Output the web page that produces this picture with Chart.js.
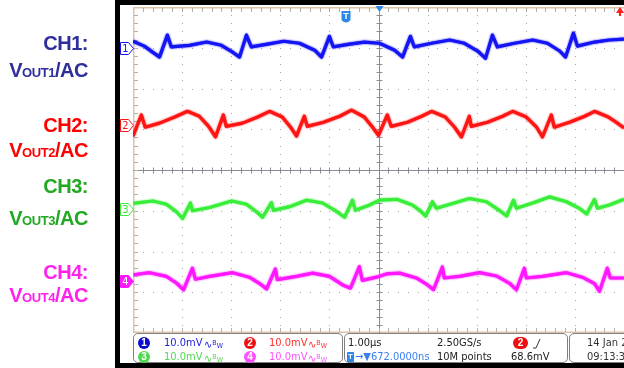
<!DOCTYPE html>
<html>
<head>
<meta charset="utf-8">
<script src="https://cdn.jsdelivr.net/npm/chart.js@4.4.1/dist/chart.umd.min.js"></script>
<style>
html, body { margin: 0; padding: 0; background: #fff; }
#wrap { position: relative; width: 624px; height: 368px; overflow: hidden; font-family: "Liberation Sans", Arial, sans-serif; }
#frame { position: absolute; left: 115px; top: 0; width: 520px; height: 368px; background: #000; }
#screen { position: absolute; left: 120px; top: 5px; width: 520px; height: 358px; background: #fff; }
#scope { position: absolute; left: 0; top: 0; }
.lbl { position: absolute; right: 536px; height: 24px; line-height: 24px; font-weight: bold; font-size: 20px; letter-spacing: -0.5px; white-space: nowrap; }
.lbl .s { font-size: 13px; letter-spacing: -0.4px; }
.pan { position: absolute; top: 333px; height: 28px; border: 1px solid #808080; border-radius: 5px; background: #fff; }
.t { position: absolute; font-family: "Liberation Sans Narrow", "DejaVu Sans Condensed", sans-serif; font-size: 11px; line-height: 12px; white-space: nowrap; }
.c { position: absolute; width: 12px; height: 12px; border-radius: 6px; color: #fff; font-family: "Liberation Sans", sans-serif; font-size: 10px; line-height: 12px; text-align: center; font-weight: bold; }
.bw { font-size: 7px; }
</style>
</head>
<body>
<div id="wrap">
  <div id="frame"></div>
  <div id="screen"></div>

  <div class="pan" style="left:133px;width:208px"></div>
  <div class="pan" style="left:344px;width:222px"></div>
  <div class="pan" style="left:569px;width:80px"></div>

  <canvas id="scope" width="624" height="368"></canvas>

  <div class="lbl" style="top:31px;color:#2e2e9c">CH1:</div>
  <div class="lbl" style="top:58px;color:#2e2e9c">V<span class="s">OUT1</span>/AC</div>
  <div class="lbl" style="top:113px;color:#ff0000">CH2:</div>
  <div class="lbl" style="top:138px;color:#ff0000">V<span class="s">OUT2</span>/AC</div>
  <div class="lbl" style="top:174px;color:#22a822">CH3:</div>
  <div class="lbl" style="top:206px;color:#22a822">V<span class="s">OUT3</span>/AC</div>
  <div class="lbl" style="top:260px;color:#ff22ee">CH4:</div>
  <div class="lbl" style="top:283px;color:#ff22ee">V<span class="s">OUT4</span>/AC</div>

  <div class="c" style="left:138px;top:337px;background:#0a0ad0">1</div>
  <div class="t" style="left:164px;top:337px;color:#2020e0">10.0mV</div>
  <div class="t" style="left:204px;top:337px;color:#2020e0">∿<span class="bw" style="vertical-align:3px">B</span><span class="bw">W</span></div>
  <div class="c" style="left:244px;top:337px;background:#ee1010">2</div>
  <div class="t" style="left:269px;top:337px;color:#ff3030">10.0mV</div>
  <div class="t" style="left:308px;top:337px;color:#ff3030">∿<span class="bw" style="vertical-align:3px">B</span><span class="bw">W</span></div>
  <div class="c" style="left:138px;top:351px;background:#50d850">3</div>
  <div class="t" style="left:164px;top:351px;color:#50d850">10.0mV</div>
  <div class="t" style="left:204px;top:351px;color:#50d850">∿<span class="bw" style="vertical-align:3px">B</span><span class="bw">W</span></div>
  <div class="c" style="left:244px;top:351px;background:#ff50ff">4</div>
  <div class="t" style="left:269px;top:351px;color:#ff50ff">10.0mV</div>
  <div class="t" style="left:308px;top:351px;color:#ff50ff">∿<span class="bw" style="vertical-align:3px">B</span><span class="bw">W</span></div>

  <div class="t" style="left:348px;top:337px;color:#222">1.00µs</div>
  <div class="t" style="left:437px;top:337px;color:#222">2.50GS/s</div>
  <div class="c" style="left:513px;top:337px;width:15px;background:#ee1010">2</div>
  <svg style="position:absolute;left:532px;top:338px" width="10" height="11"><polyline points="1,10 4,10 8,1" fill="none" stroke="#333" stroke-width="1"/></svg>
  <div class="c" style="left:347px;top:352px;width:7px;height:10px;border-radius:1px;background:#2a86e8;font-size:8px;line-height:10px">T</div>
  <div class="t" style="left:355px;top:351px;color:#3a7ff0">→▼672.0000ns</div>
  <div class="t" style="left:437px;top:351px;color:#222">10M points</div>
  <div class="t" style="left:511px;top:351px;color:#222">68.6mV</div>

  <div class="t" style="left:587px;top:337px;color:#333">14 Jan 2</div>
  <div class="t" style="left:587px;top:351px;color:#333">09:13:31</div>
</div>

<script>
// time in microseconds (1.00 us/div), amplitude in mV (10.0 mV/div, AC)
const ch1Time = [-5.00,-4.77,-4.46,-4.30,-4.22,-3.85,-3.50,-3.20,-2.97,-2.83,-2.69,-2.59,-2.26,-1.93,-1.61,-1.30,-1.16,-1.00,-0.92,-0.59,-0.29,0.02,0.33,0.49,0.65,0.73,1.08,1.45,1.75,2.02,2.18,2.32,2.42,2.77,3.14,3.44,3.69,3.81,3.97,4.05,4.40,4.70,5.00];
const ch1Mv   = [1.7,0.5,-2.2,3.2,0.3,0.7,1.5,0.7,-1.0,-2.2,3.2,0.3,1.0,1.7,1.2,-0.5,-2.2,2.9,0.3,1.0,1.5,1.2,-0.5,-2.2,2.9,0.3,1.2,2.0,1.2,-0.7,-2.5,3.2,0.3,1.2,2.0,1.2,-0.7,-2.2,3.7,0.5,1.5,2.0,2.2];

const ch2Time = [-5.00,-4.83,-4.75,-4.46,-4.15,-3.89,-3.65,-3.46,-3.32,-3.16,-3.10,-2.77,-2.46,-2.22,-1.96,-1.79,-1.67,-1.51,-1.45,-1.12,-0.79,-0.55,-0.29,-0.12,0.00,0.18,0.26,0.59,0.88,1.08,1.36,1.55,1.69,1.85,1.89,2.22,2.53,2.73,3.01,3.22,3.34,3.52,3.58,3.89,4.20,4.40,4.68,4.89,5.00];
const ch2Mv   = [-2.7,2.5,-0.5,0.5,2.0,3.4,2.2,-0.3,-2.9,2.5,-0.3,0.5,2.0,3.4,2.0,-0.5,-2.7,2.2,-0.3,0.7,2.2,3.7,2.0,-0.5,-2.5,2.5,-0.3,0.7,2.2,3.4,2.0,-0.5,-2.9,2.2,-0.3,0.7,2.2,3.4,2.0,-0.5,-2.9,2.5,-0.5,0.7,2.2,3.4,2.0,0.3,-0.7];

const ch3Time = [-4.99,-4.60,-4.32,-4.11,-3.99,-3.83,-3.79,-3.44,-2.99,-2.69,-2.46,-2.36,-2.18,-2.14,-1.81,-1.47,-1.14,-0.84,-0.69,-0.53,-0.47,-0.18,0.02,0.37,0.69,0.86,0.96,1.10,1.18,1.51,1.85,2.20,2.46,2.61,2.75,2.81,3.14,3.48,3.83,4.09,4.24,4.40,4.46,4.70,5.00];
const ch3Mv   = [1.4,2.0,1.2,-0.7,-2.3,1.5,-0.4,0.4,2.0,1.2,-0.9,-2.0,1.6,-0.3,0.6,2.2,1.5,-0.7,-2.0,2.2,-0.3,1.0,2.2,2.4,1.0,-0.5,-1.7,1.8,0.2,1.4,2.6,1.8,-0.3,-1.7,2.2,0.2,1.5,3.0,1.8,0.2,-1.2,2.4,0.2,1.0,2.4];

const ch4Time = [-4.99,-4.66,-4.32,-4.11,-3.97,-3.79,-3.73,-3.44,-2.97,-2.63,-2.38,-2.28,-2.10,-2.06,-1.67,-1.34,-1.00,-0.73,-0.57,-0.39,-0.33,-0.04,0.16,0.43,0.77,1.00,1.12,1.30,1.34,1.65,2.06,2.40,2.67,2.81,2.97,3.01,3.34,3.83,4.15,4.40,4.50,4.66,4.72,5.00];
const ch4Mv   = [1.5,2.0,1.1,-0.6,-2.2,3.1,0.4,1.1,2.0,0.9,-1.0,-2.0,2.9,0.3,1.1,1.9,1.1,-1.0,-1.8,3.5,0.1,0.9,1.7,1.9,0.7,-1.0,-2.2,3.4,0.7,1.1,2.0,1.2,-0.6,-2.2,3.1,0.7,1.1,2.0,0.9,-0.7,-2.6,3.1,0.7,0.7];

// channel ground positions on screen (divisions from centre)
const chOffsets = [2.99, 1.10, -0.96, -2.72];
const chNames = ['1', '2', '3', '4'];
const mvPerDiv = 10;
const triggerDelay = 0.672; // us

const traceColors = ['#1414f5', '#ff1414', '#38ee38', '#ff18ff'];

function toPoints(times, mv, off) {
  return times.map((t, i) => ({x: t, y: off + mv[i] / mvPerDiv}));
}

/* graticule */
const scopeGrid = {
  id: 'scopeGrid',
  beforeDatasetsDraw(chart) {
    const {ctx, chartArea: a, scales: {x, y}} = chart;
    ctx.save();

    ctx.strokeStyle = '#dcc4a8';
    ctx.lineWidth = 1.5;
    ctx.beginPath();
    ctx.moveTo(a.left + 0.75, a.top); ctx.lineTo(a.left + 0.75, a.bottom);
    ctx.moveTo(a.left, a.top + 0.75); ctx.lineTo(a.right, a.top + 0.75);
    ctx.moveTo(a.left, a.bottom - 0.75); ctx.lineTo(a.right, a.bottom - 0.75);
    ctx.stroke();

    // dotted division lines
    ctx.fillStyle = '#a4a4a4';
    for (let d = -4; d <= 4; d++) {
      if (d === 0) continue;
      const px = Math.round(x.getPixelForValue(d));
      for (let m = -19; m <= 19; m++) {
        ctx.fillRect(px, Math.round(y.getPixelForValue(m / 5)), 1, 1);
      }
    }
    for (let d = -3; d <= 3; d++) {
      if (d === 0) continue;
      const py = Math.round(y.getPixelForValue(d));
      for (let m = -24; m <= 24; m++) {
        ctx.fillRect(Math.round(x.getPixelForValue(m / 5)), py, 1, 1);
      }
    }

    // centre cross with minor ticks
    const cx = Math.round(x.getPixelForValue(0)) + 0.5;
    const cy = Math.round(y.getPixelForValue(0)) + 0.5;
    ctx.strokeStyle = '#8a8c98';
    ctx.lineWidth = 1;
    ctx.beginPath();
    ctx.moveTo(cx, a.top); ctx.lineTo(cx, a.bottom);
    ctx.moveTo(a.left, cy); ctx.lineTo(a.right, cy);
    for (let m = -19; m <= 19; m++) {
      const py = Math.round(y.getPixelForValue(m / 5)) + 0.5;
      ctx.moveTo(cx - 3, py); ctx.lineTo(cx + 3, py);
    }
    for (let m = -24; m <= 24; m++) {
      const px = Math.round(x.getPixelForValue(m / 5)) + 0.5;
      ctx.moveTo(px, cy - 3); ctx.lineTo(px, cy + 3);
    }
    ctx.stroke();

    // edge ticks
    ctx.strokeStyle = '#b0b0b0';
    ctx.beginPath();
    for (let m = -19; m <= 19; m++) {
      const py = Math.round(y.getPixelForValue(m / 5)) + 0.5;
      ctx.moveTo(a.left + 1, py); ctx.lineTo(a.left + 5, py);
    }
    for (let m = -24; m <= 24; m++) {
      const px = Math.round(x.getPixelForValue(m / 5)) + 0.5;
      ctx.moveTo(px, a.top + 1); ctx.lineTo(px, a.top + 5);
      ctx.moveTo(px, a.bottom - 1); ctx.lineTo(px, a.bottom - 5);
    }
    ctx.stroke();

    ctx.restore();
  }
};

/* soft edge on the traces, like a noisy acquisition */
const traceGlow = {
  id: 'traceGlow',
  beforeDatasetDraw(chart, args) {
    const ctx = chart.ctx;
    ctx.save();
    ctx.shadowColor = traceColors[args.index];
    ctx.shadowBlur = 2;
  },
  afterDatasetDraw(chart) {
    chart.ctx.restore();
  }
};

/* channel markers and trigger indicators */
const scopeMarks = {
  id: 'scopeMarks',
  afterDatasetsDraw(chart) {
    const {ctx, chartArea: a, scales: {x, y}} = chart;
    ctx.save();

    chOffsets.forEach((off, i) => {
      const py = Math.round(y.getPixelForValue(off)) + 0.5;
      const filled = i === 3;
      ctx.beginPath();
      ctx.moveTo(120.5, py - 6);
      ctx.lineTo(128.5, py - 6);
      ctx.lineTo(133.5, py);
      ctx.lineTo(128.5, py + 6);
      ctx.lineTo(120.5, py + 6);
      ctx.closePath();
      ctx.fillStyle = filled ? traceColors[i] : '#fff';
      ctx.fill();
      ctx.strokeStyle = traceColors[i];
      ctx.lineWidth = 1;
      ctx.stroke();
      ctx.fillStyle = filled ? '#fff' : traceColors[i];
      ctx.font = '11px "Liberation Sans Narrow", "DejaVu Sans Condensed", sans-serif';
      ctx.textAlign = 'center';
      ctx.textBaseline = 'middle';
      ctx.fillText(chNames[i], 125.5, py + 0.5);
    });

    // trigger position (centre)
    const cx = Math.round(x.getPixelForValue(0)) + 0.5;
    ctx.fillStyle = '#2a86e8';
    ctx.beginPath();
    ctx.moveTo(cx - 4, a.top - 1);
    ctx.lineTo(cx + 4, a.top - 1);
    ctx.lineTo(cx, a.top + 5);
    ctx.closePath();
    ctx.fill();

    // trigger point "T"
    const tx = Math.round(x.getPixelForValue(-triggerDelay));
    ctx.beginPath();
    ctx.moveTo(tx - 4.5, 11);
    ctx.lineTo(tx + 4.5, 11);
    ctx.lineTo(tx + 4.5, 20);
    ctx.quadraticCurveTo(tx, 25, tx - 4.5, 20);
    ctx.closePath();
    ctx.fill();
    ctx.fillStyle = '#fff';
    ctx.font = 'bold 9px "Liberation Sans", sans-serif';
    ctx.textAlign = 'center';
    ctx.textBaseline = 'middle';
    ctx.fillText('T', tx, 17);

    // trigger level off screen (above)
    const rx = a.right - 4;
    ctx.fillStyle = '#ff2020';
    ctx.beginPath();
    ctx.moveTo(rx - 4, 13);
    ctx.lineTo(rx + 4, 13);
    ctx.lineTo(rx, 7);
    ctx.closePath();
    ctx.fill();
    ctx.fillRect(rx - 1, 12, 2, 4);

    ctx.restore();
  }
};

const channels = [
  [ch1Time, ch1Mv], [ch2Time, ch2Mv], [ch3Time, ch3Mv], [ch4Time, ch4Mv]
];

new Chart(document.getElementById('scope'), {
  type: 'line',
  data: {
    datasets: channels.map(([t, v], i) => ({
      label: 'CH' + chNames[i],
      data: toPoints(t, v, chOffsets[i]),
      borderColor: traceColors[i],
      borderWidth: 3.2,
      pointRadius: 0,
      tension: 0,
      borderJoinStyle: 'round',
      fill: false
    }))
  },
  options: {
    responsive: false,
    animation: false,
    devicePixelRatio: 1,
    layout: { padding: { left: 133, right: 0, top: 7, bottom: 35 } },
    plugins: { legend: { display: false }, tooltip: { enabled: false } },
    scales: {
      x: { type: 'linear', min: -5, max: 5, display: false },
      y: { type: 'linear', min: -4, max: 4, display: false }
    }
  },
  plugins: [scopeGrid, traceGlow, scopeMarks]
});
</script>
</body>
</html>
